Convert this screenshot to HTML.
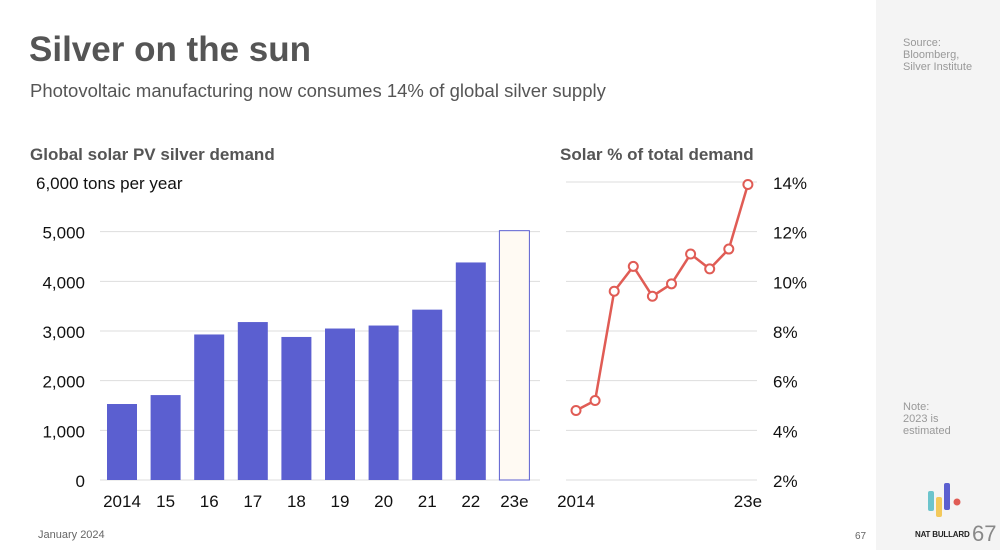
<!DOCTYPE html>
<html><head><meta charset="utf-8"><style>
body{margin:0;width:1000px;height:550px;overflow:hidden;background:#fff;font-family:"Liberation Sans",sans-serif;position:relative}
.abs{position:absolute;white-space:nowrap}
</style></head><body>
<div class="abs" style="left:876px;top:0;width:124px;height:550px;background:#f4f4f4"></div>
<div class="abs" style="left:29px;top:30px;font-size:35px;font-weight:bold;color:#555">Silver on the sun</div>
<div class="abs" style="left:30px;top:80px;font-size:18.5px;color:#555">Photovoltaic manufacturing now consumes 14% of global silver supply</div>
<div class="abs" style="left:903px;top:37px;font-size:11px;color:#999;line-height:12px">Source:<br>Bloomberg,<br>Silver Institute</div>
<div class="abs" style="left:903px;top:401px;font-size:11px;color:#999;line-height:12px">Note:<br>2023 is<br>estimated</div>
<div class="abs" style="left:38px;top:529px;font-size:11px;color:#666">January 2024</div>
<div class="abs" style="left:855px;top:531px;font-size:10px;color:#666">67</div>
<div class="abs" style="left:915px;top:530px;font-size:8px;font-weight:bold;color:#222;letter-spacing:-0.2px">NAT BULLARD</div>
<div class="abs" style="left:972px;top:521px;font-size:22px;color:#888">67</div>
<svg class="abs" style="left:925px;top:480px" width="40" height="40">
<rect x="3" y="11" width="6" height="20" rx="2" fill="#6cc4cc"/><rect x="11" y="17" width="6" height="20" rx="2" fill="#f3c95b"/><rect x="19" y="3" width="6" height="27" rx="2" fill="#5b5fd0"/><circle cx="32" cy="22" r="3.5" fill="#e05c55"/></svg>
<svg class="abs" style="left:0;top:0" width="1000" height="550" id="c"></svg>
<script>
const years=["2014","15","16","17","18","19","20","21","22","23e"];
const demand=[1530,1710,2930,3180,2880,3050,3110,3430,4380,5020];
const yTicks=[0,1000,2000,3000,4000,5000,6000];
const yTickLabels=["0","1,000","2,000","3,000","4,000","5,000","6,000 tons per year"];
const share=[4.8,5.2,9.6,10.6,9.4,9.9,11.1,10.5,11.3,13.9];
const pTicks=[2,4,6,8,10,12,14];
const NS="http://www.w3.org/2000/svg";
const svg=document.getElementById('c');
function mk(t,a,txt){const e=document.createElementNS(NS,t);for(const k in a)e.setAttribute(k,a[k]);if(txt!==undefined)e.textContent=txt;svg.appendChild(e);return e;}
const y1=v=>480-v/6000*298;
const x1=i=>122+i*43.6;
const y2=v=>480-(v-2)/12*298;
const x2=i=>576+i*19.1;
mk('text',{x:30,y:160,'font-size':17,'font-weight':'bold',fill:'#555'},'Global solar PV silver demand');
mk('text',{x:560,y:160,'font-size':17,'font-weight':'bold',fill:'#555'},'Solar % of total demand');
yTicks.forEach((t,i)=>{
 if(i<yTicks.length-1){const g=mk('line',{x1:100,x2:540,y1:y1(t),y2:y1(t),stroke:'#ddd','stroke-width':1});}
 const l=mk('text',{x:i==yTicks.length-1?36:85,y:y1(t)+7,'font-size':17,fill:'#111','text-anchor':i==yTicks.length-1?'start':'end'},yTickLabels[i]);
 
});
demand.forEach((v,i)=>{
 const last=i==demand.length-1;
 const b=mk('rect',{x:x1(i)-15,y:y1(v),width:30,height:480-y1(v),fill:last?'#fffaf3':'#5b5fd0',stroke:last?'#5b5fd0':'none','stroke-width':1});
 
 const l=mk('text',{x:x1(i),y:507,'font-size':17,fill:'#111','text-anchor':'middle'},years[i]);
 
});
pTicks.forEach(t=>{
 const g=mk('line',{x1:566,x2:757,y1:y2(t),y2:y2(t),stroke:'#ddd','stroke-width':1});
 
 const l=mk('text',{x:773,y:y2(t)+7,'font-size':17,fill:'#111'},t+'%');
 
});
const line=mk('polyline',{points:share.map((v,i)=>x2(i)+','+y2(v)).join(' '),fill:'none',stroke:'#e05c55','stroke-width':2.5});

share.forEach((v,i)=>{const c=mk('circle',{cx:x2(i),cy:y2(v),r:4.5,fill:'#fff',stroke:'#e05c55','stroke-width':2});
 });
const a=mk('text',{x:x2(0),y:507,'font-size':17,fill:'#111','text-anchor':'middle'},years[0]);

const b=mk('text',{x:x2(share.length-1),y:507,'font-size':17,fill:'#111','text-anchor':'middle'},years[years.length-1]);

</script>
</body></html>
